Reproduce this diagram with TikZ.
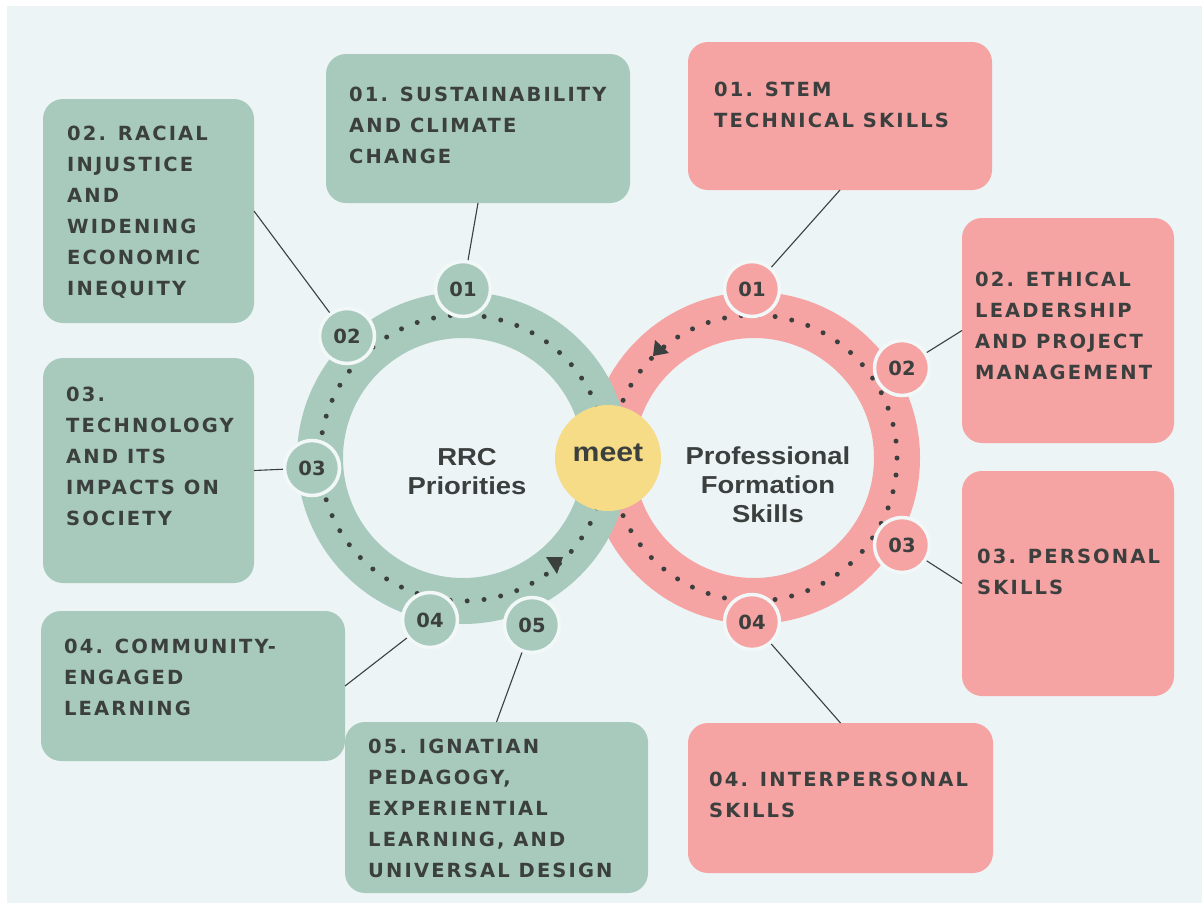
\documentclass[tikz,border=0pt]{standalone}
\usepackage{fontspec}
\setmainfont{Liberation Sans}
\newfontfamily\boxfont[LetterSpace=11]{DejaVu Sans}
\newfontfamily\numfont{DejaVu Sans}
\newfontfamily\titlefont[FakeStretch=1.12]{Liberation Sans}

\definecolor{bg}{HTML}{ECF4F5}
\definecolor{sage}{HTML}{A8CABD}
\definecolor{rose}{HTML}{F5A3A3}
\definecolor{sun}{HTML}{F6DC86}
\definecolor{ink}{HTML}{3B3F3E}
\definecolor{rim}{HTML}{F2F8F8}

\tikzset{
  card/.style={rounded corners=20pt, inner sep=0pt, outer sep=0pt, anchor=north west},
  gcard/.style={card, fill=sage},
  rcard/.style={card, fill=rose},
  cardtext/.style={anchor=north west, inner sep=0pt, align=left, text=ink,
    font=\boxfont\bfseries\fontsize{19.5}{31}\selectfont},
  numdot/.style={circle, draw=rim, line width=3.5pt, minimum size=55pt, inner sep=0pt,
    text=ink, font=\numfont\bfseries\fontsize{19.5}{20}\selectfont},
  gnum/.style={numdot, fill=sage},
  rnum/.style={numdot, fill=rose},
  hub/.style={anchor=north, inner sep=0pt, align=center, text=ink,
    font=\titlefont\bfseries\fontsize{24.5}{29}\selectfont},
  link/.style={draw=ink, line width=1.1pt},
  track/.style={draw=ink, line width=5pt, line cap=round, dash pattern=on 0pt off 16.953pt},
}

\begin{document}
\begin{tikzpicture}[x=1pt, y=-1pt]
\useasboundingbox (0,0) rectangle (1202,905);
\fill[white] (0,0) rectangle (1202,905);
\fill[bg] (7,6) rectangle (1202,903);

% ring centres
\coordinate (gc) at (463,458);
\coordinate (rc) at (754,458);

% cards, green side
\node[gcard, minimum width=304pt, minimum height=149pt] (g1) at (326,54) {};
\node[gcard, minimum width=211pt, minimum height=224pt] (g2) at (43,99) {};
\node[gcard, minimum width=211pt, minimum height=225pt] (g3) at (43,358) {};
\node[gcard, minimum width=304pt, minimum height=150pt] (g4) at (41,611) {};
\node[gcard, minimum width=303pt, minimum height=171pt] (g5) at (345,722) {};
% cards, red side
\node[rcard, minimum width=304pt, minimum height=148pt] (r1) at (688,42) {};
\node[rcard, minimum width=212pt, minimum height=225pt] (r2) at (962,218) {};
\node[rcard, minimum width=212pt, minimum height=225pt] (r3) at (962,471) {};
\node[rcard, minimum width=305pt, minimum height=150pt] (r4) at (688,723) {};

% card texts
\node[cardtext] (g1t) at (349,87) {01. SUSTAINABILITY\\AND CLIMATE\\CHANGE};
\node[cardtext] (g2t) at (67,126) {02. RACIAL\\INJUSTICE\\AND\\WIDENING\\ECONOMIC\\INEQUITY};
\node[cardtext] (g3t) at (66,387) {03.\\TECHNOLOGY\\AND ITS\\IMPACTS ON\\SOCIETY};
\node[cardtext] (g4t) at (64,639) {04. COMMUNITY-\\ENGAGED\\LEARNING};
\node[cardtext] (g5t) at (368,739) {05. IGNATIAN\\PEDAGOGY,\\EXPERIENTIAL\\LEARNING, AND\\UNIVERSAL DESIGN};
\node[cardtext] (r1t) at (714,82) {01. STEM\\TECHNICAL SKILLS};
\node[cardtext] (r2t) at (975,272) {02. ETHICAL\\LEADERSHIP\\AND PROJECT\\MANAGEMENT};
\node[cardtext] (r3t) at (977,549) {03. PERSONAL\\SKILLS};
\node[cardtext] (r4t) at (709,772) {04. INTERPERSONAL\\SKILLS};

% red ring with its dotted track
\fill[rose, even odd rule] (rc) circle[radius=166pt] circle[radius=120pt];
\draw[track] (rc) circle[radius=143pt];
\fill[ink] (655,340) -- (653,356) -- (669,353) -- cycle;

% green ring with its dotted track
\fill[sage, even odd rule] (gc) circle[radius=166pt] circle[radius=120pt];
\draw[track] (gc) circle[radius=143pt];
\fill[ink] (546,557) -- (563,557) -- (557,574) -- cycle;

% numbered stops
\node[gnum] (gn1) at (463,289) {01};
\node[gnum] (gn2) at (347,336) {02};
\node[gnum] (gn3) at (312,468) {03};
\node[gnum] (gn4) at (430,620) {04};
\node[gnum] (gn5) at (532,625) {05};
\node[rnum] (rn1) at (752,289) {01};
\node[rnum] (rn2) at (902,368) {02};
\node[rnum] (rn3) at (902,545) {03};
\node[rnum] (rn4) at (752,622) {04};

% connectors from cards to stops
\draw[link] (g1.south) -- (gn1);
\draw[link] (g2.east) -- (gn2);
\draw[link] (g3.east) -- (gn3);
\draw[link] (g4.east) -- (gn4);
\draw[link] (g5.north) -- (gn5);
\draw[link] (r1.south) -- (rn1);
\draw[link] (r2.west) -- (rn2);
\draw[link] (r3.west) -- (rn3);
\draw[link] (r4.north) -- (rn4);

% meeting point
\node[circle, fill=sun, minimum size=106pt, inner sep=0pt] (meet) at (608,458) {};
\node[anchor=base, inner sep=0pt, text=ink, font=\titlefont\bfseries\fontsize{27}{30}\selectfont] (meettext) at (608,461) {meet};

% ring titles
\node[hub] (rrc) at (467,448) {RRC\\Priorities};
\node[hub] (pfs) at (768,447) {Professional\\Formation\\Skills};
\end{tikzpicture}
\end{document}
